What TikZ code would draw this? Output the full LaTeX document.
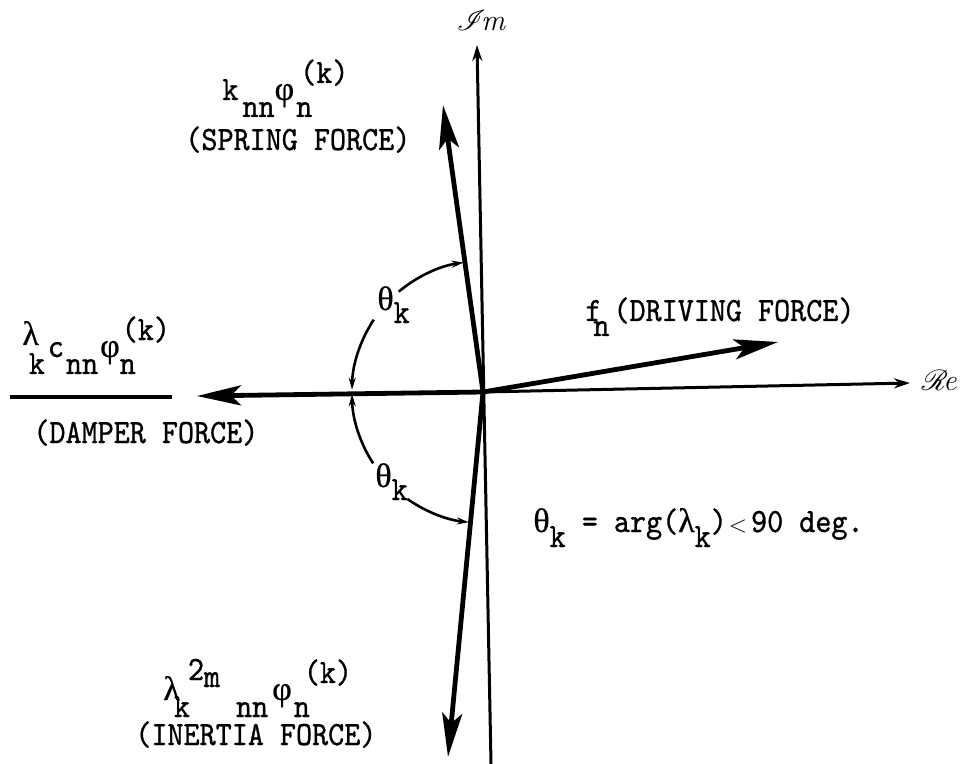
\documentclass[tikz,border=0pt]{standalone}
\usepackage{fontspec}
\usepackage{mathrsfs}
\usetikzlibrary{arrows.meta,calc}
\newfontfamily\grk[FakeBold=0.6]{Liberation Serif}
\newfontfamily\tw[FakeBold=0.9,FakeStretch=0.9]{lmmono10-regular.otf}
\newcommand{\gk}[1]{{\grk #1}}
\newcommand{\dn}[1]{\raisebox{-8.5pt}{#1}}
\newcommand{\upr}[1]{\raisebox{8.5pt}{#1}}
\begin{document}
\begin{tikzpicture}[x=0.5pt,y=-0.5pt,
  lab/.style={font=\fontsize{17}{18}\selectfont\tw, inner sep=0pt, anchor=base west},
  axis/.style={line width=1.5pt, -{Stealth[length=8pt,width=5pt]}},
  vec/.style={line width=2.4pt, -{Stealth[length=22pt,width=10pt,inset=5pt]}},
  arcline/.style={line width=1.3pt, -{Stealth[length=6pt,width=3.5pt]}},
  bar/.style={line width=2pt},
  axlab/.style={font=\fontsize{15}{16}\selectfont, inner sep=0pt}
]
\useasboundingbox[fill=white] (0,0) rectangle (962,764);
\coordinate (O) at (483,392);
\coordinate (Imb) at (491,764);
\coordinate (Imt) at (477,45);
\coordinate (Ret) at (910,383);
\coordinate (S) at (443,105);
\coordinate (D) at (197,396);
\coordinate (I) at (448,757);
\coordinate (F) at (778,342);
% axes
\draw[axis] (Imb) -- (Imt);
\draw[axis] (O) -- (Ret);
\node[axlab] (imlab) at (481,21) {$\mathscr{I}\!\mathit{m}$};
\node[axlab] (relab) at (939,381) {$\mathscr{R}\!\mathit{e}$};
% force vectors
\draw[vec] (O) -- (S);
\draw[vec] (O) -- (D);
\draw[vec] (O) -- (I);
\draw[vec] (O) -- (F);
% angle arcs
\draw[arcline] (O) ++(213.5:131) arc[start angle=213.5, end angle=181, radius=131];
\draw[arcline] (O) ++(230:131) arc[start angle=230, end angle=261.5, radius=131];
\draw[arcline] (O) ++(147:131) arc[start angle=147, end angle=179, radius=131];
\draw[arcline] (O) ++(125.3:131) arc[start angle=125.3, end angle=96.2, radius=131];
\node[lab] (th1) at (377,310) {\gk{θ}\raisebox{-6.5pt}{k}};
\node[lab] (th2) at (375,487) {\gk{θ}\raisebox{-6.5pt}{k}};
% spring label
\node[lab] (spr1) at (222,100) {k\kern2pt\dn{nn}\gk{φ}\kern1pt\rlap{\dn{n}}\kern2pt\upr{(k)}};
\node[lab] (spr2) at (185,150) {(SPRING FORCE)};
% damper label
\node[lab] (dmp1) at (22,357) {\raisebox{6pt}{\gk{λ}}\kern-5pt\dn{k}\kern1.5pt c\kern1pt\dn{nn}\kern1pt\gk{φ}\rlap{\dn{n}}\kern1pt\upr{(k)}};
\coordinate (barl) at (10,397);
\coordinate (barr) at (172,397);
\draw[bar] (barl) -- (barr);
\node[lab] (dmp2) at (33,443) {(DAMPER FORCE)};
% inertia label
\node[lab] (ine1) at (163,700) {\gk{λ}\kern-3pt\dn{k}\kern-1pt\raisebox{10pt}{2}\raisebox{6.5pt}{m}\kern8pt\dn{nn}\kern2pt\gk{φ}\kern1pt\rlap{\dn{n}}\kern5pt\upr{(k)}};
\node[lab] (ine2) at (135,745) {(INERTIA FORCE)};
% driving label
\node[lab] (drv) at (585,321) {\rlap{f}\kern4pt\raisebox{-7.5pt}{n}\kern2pt(DRIVING FORCE)};
% equation
\node[lab] (eq) at (533,532) {\gk{θ}\raisebox{-7.5pt}{k} = arg(\gk{λ}\raisebox{-7.5pt}{k})\kern1pt{\fontsize{13}{14}\selectfont$<$}\kern2pt 90 deg.};
\end{tikzpicture}
\end{document}
